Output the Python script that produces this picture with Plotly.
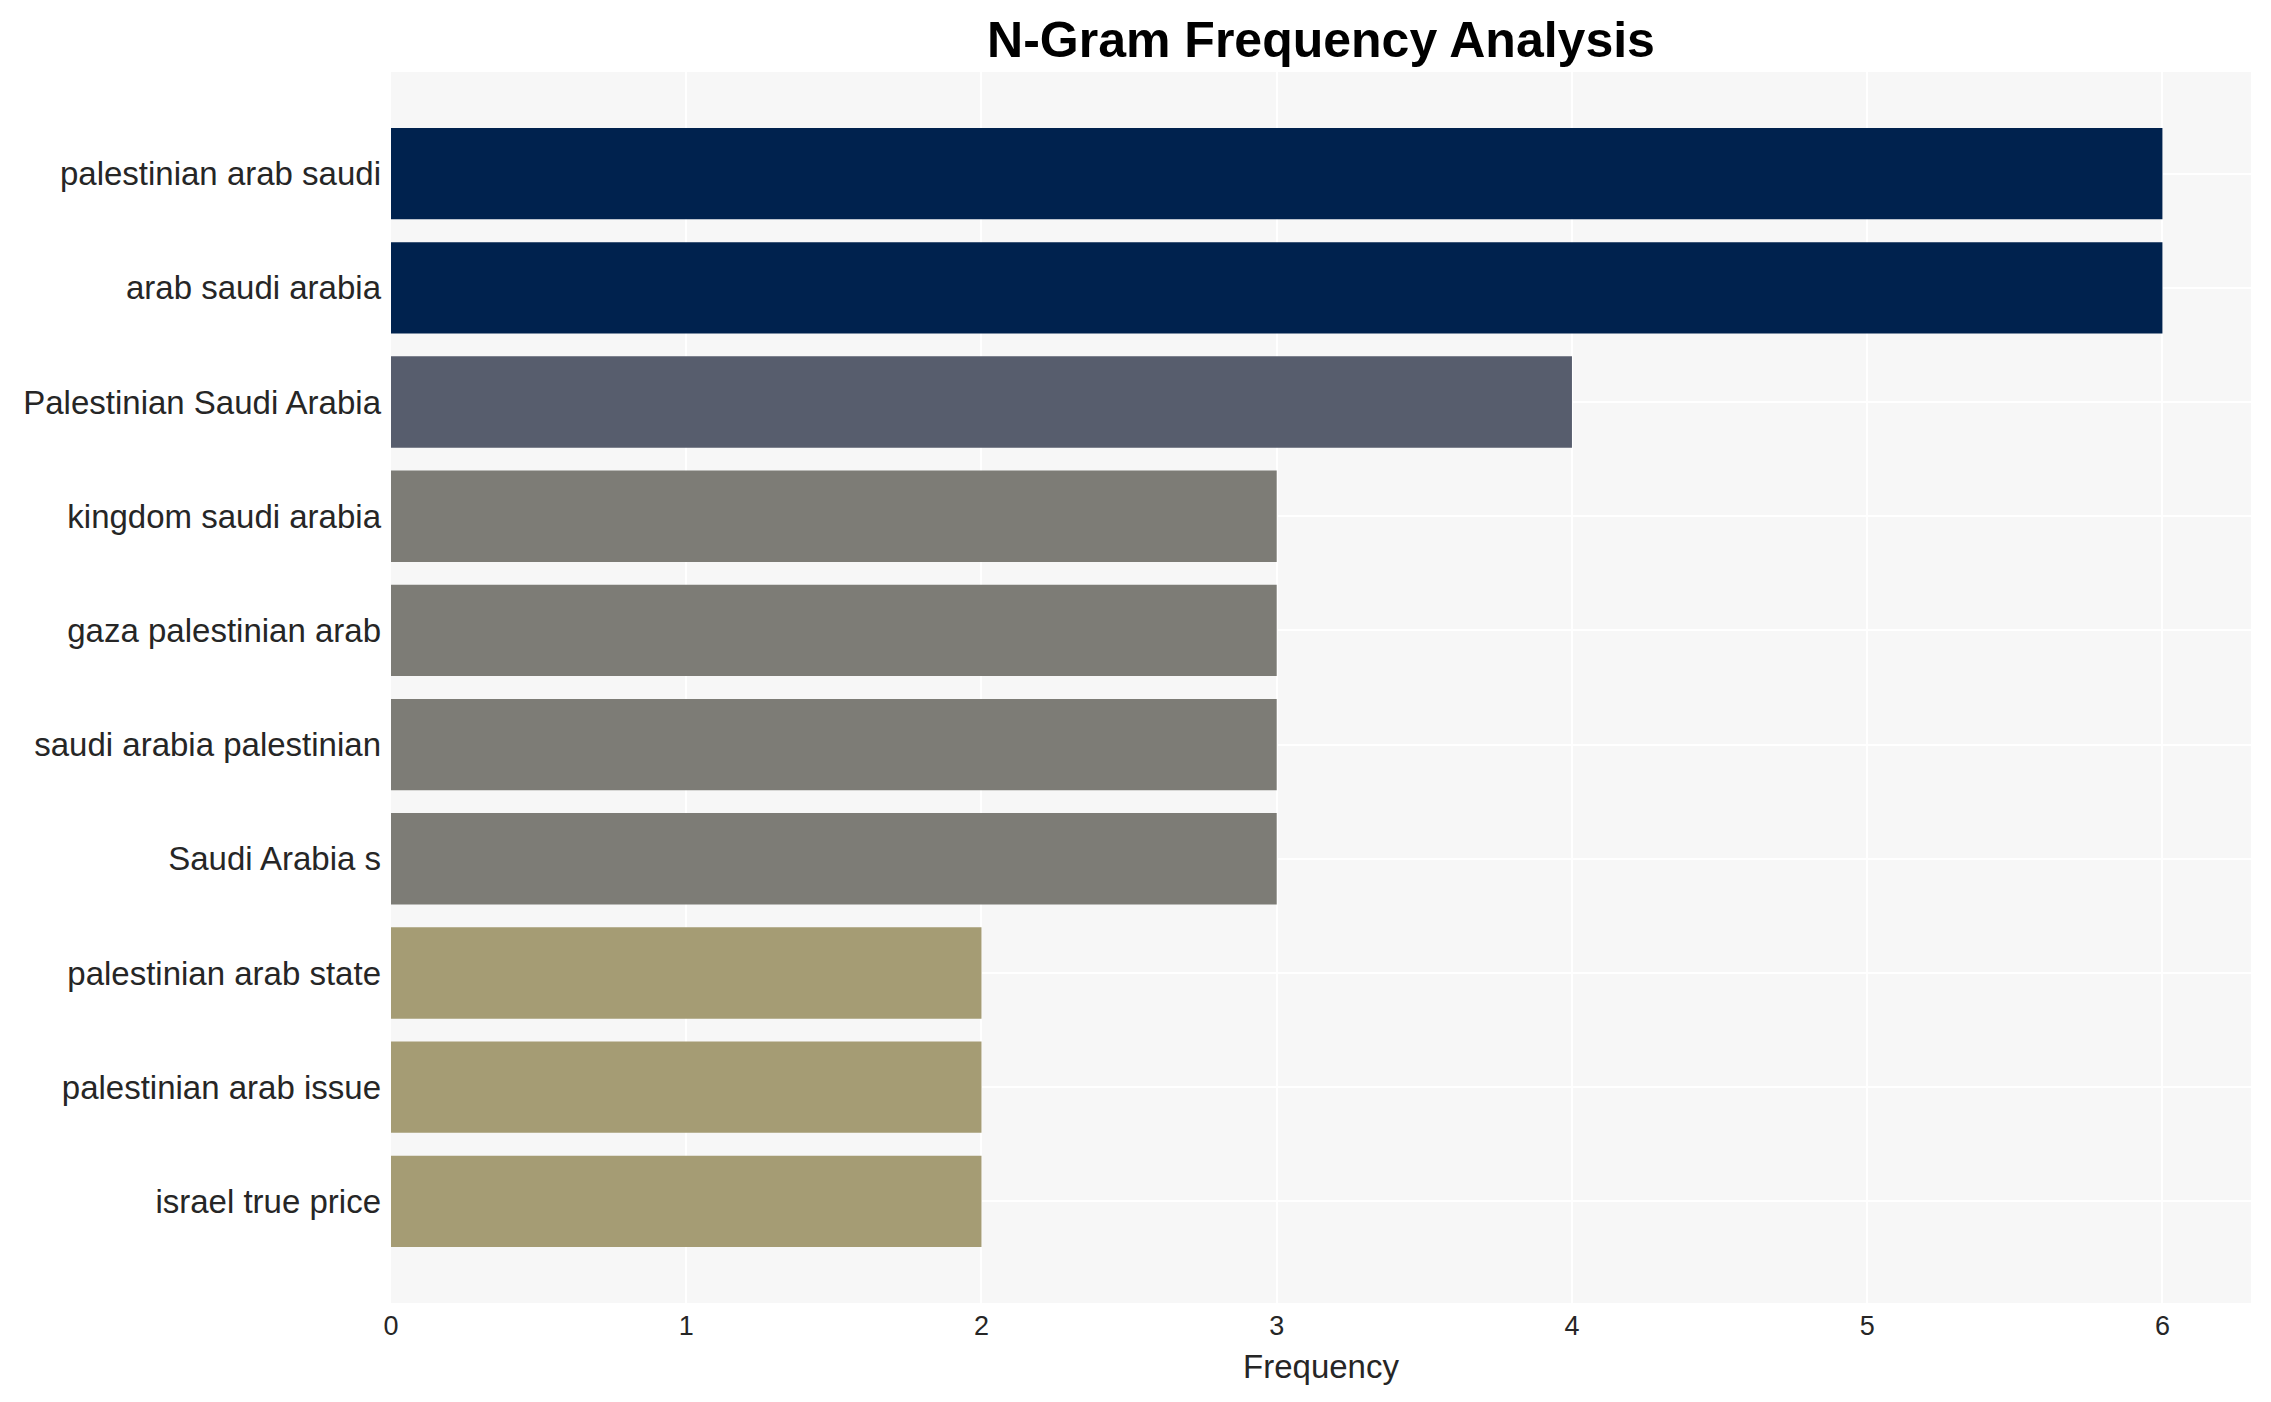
import plotly.graph_objects as go

ngrams = [
    "palestinian arab saudi",
    "arab saudi arabia",
    "Palestinian Saudi Arabia",
    "kingdom saudi arabia",
    "gaza palestinian arab",
    "saudi arabia palestinian",
    "Saudi Arabia s",
    "palestinian arab state",
    "palestinian arab issue",
    "israel true price",
]
frequencies = [6, 6, 4, 3, 3, 3, 3, 2, 2, 2]
x_ticks = [0, 1, 2, 3, 4, 5, 6]

FONT = "Arial, 'Liberation Sans', Helvetica, sans-serif"

fig = go.Figure(
    go.Bar(
        x=frequencies,
        y=ngrams,
        orientation="h",
        marker=dict(
            color=frequencies,
            colorscale="Cividis",
            reversescale=True,
            cmin=0,
            cmax=max(frequencies),
            line=dict(width=0),
        ),
        width=0.8,
        showlegend=False,
    )
)

n = len(ngrams)
W, H = 2255, 1386
fig.update_layout(
    width=W,
    height=H,
    margin=dict(l=383, r=12, t=64, b=91),
    paper_bgcolor="white",
    plot_bgcolor="#f7f7f7",
    font=dict(family=FONT, color="#262626"),
    title=dict(
        text="<b>N-Gram Frequency Analysis</b>",
        font=dict(family=FONT, size=50, color="black"),
        x=0.5,
        xref="paper",
        xanchor="center",
        y=1 - 31 / H,
        yref="container",
        yanchor="middle",
    ),
    xaxis=dict(
        title=dict(text="Frequency", font=dict(size=33, color="#262626"), standoff=14),
        tickvals=x_ticks,
        tickfont=dict(size=27, color="#262626"),
        showgrid=True,
        gridcolor="white",
        gridwidth=2,
        zeroline=False,
        showline=False,
        ticks="",
        ticklabelstandoff=4,
        range=[0, max(frequencies) * 1.05],
    ),
    yaxis=dict(
        categoryorder="array",
        categoryarray=ngrams,
        range=[n - 1 + 0.89, -0.89],
        tickfont=dict(size=33, color="#262626"),
        showgrid=True,
        gridcolor="white",
        gridwidth=2,
        zeroline=False,
        showline=False,
        ticks="",
        ticklabelstandoff=9,
    ),
)

fig.write_html("out.html")
